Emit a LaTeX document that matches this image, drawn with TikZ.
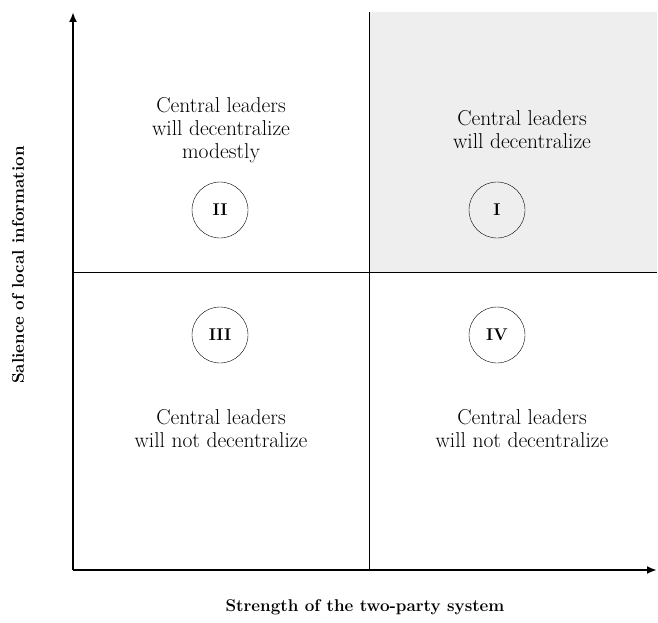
\documentclass[tikz,border=0pt]{standalone}
\usepackage{fontspec}
\usepackage{tikz}
\usetikzlibrary{arrows.meta}
\tikzset{>={Latex[width=8pt,length=10pt]}}
\tikzset{
  quadtext/.style={align=center, font=\fontsize{21.5}{23}\selectfont},
  numcircle/.style={draw, circle, minimum size=56pt, inner sep=0pt, font=\fontsize{17}{17}\selectfont\bfseries},
  axislabel/.style={font=\fontsize{17}{17}\selectfont\bfseries}
}
\definecolor{quadgray}{RGB}{238,238,238}

\begin{document}
\begin{tikzpicture}[x=1pt, y=-1pt]

  \newcommand\XL{73};
  \newcommand\XM{369};
  \newcommand\XR{657};
  \newcommand\YT{12};
  \newcommand\YM{272};
  \newcommand\YB{570};

  \useasboundingbox (0,0) rectangle (658,623);

  \fill[quadgray] (\XM, \YT) rectangle (\XR, \YM);

  \coordinate (origin) at (\XL, \YB);
  \coordinate (ytop) at (\XL, \YT);
  \coordinate (xend) at (\XR, \YB);
  \coordinate (midtop) at (\XM, \YT);
  \coordinate (midbot) at (\XM, \YB);
  \coordinate (midleft) at (\XL, \YM);
  \coordinate (midright) at (\XR, \YM);

  \draw[line width=1pt] (midtop) -- (midbot);
  \draw[line width=1pt] (midleft) -- (midright);

  \draw[->, line width=2pt] (origin) -- (ytop);
  \draw[->, line width=2pt] (origin) -- (xend);

  \node[numcircle] (qii) at (220, 210) {II};
  \node[numcircle] (qi) at (497, 210) {I};
  \node[numcircle] (qiii) at (220, 335) {III};
  \node[numcircle] (qiv) at (497, 335) {IV};

  \node[quadtext] (tii) at (221, 130) {Central leaders\\will decentralize\\modestly};
  \node[quadtext] (ti) at (522, 130) {Central leaders\\will decentralize};
  \node[quadtext] (tiii) at (221, 429) {Central leaders\\will not decentralize};
  \node[quadtext] (tiv) at (522, 429) {Central leaders\\will not decentralize};

  \node[axislabel] (xlabel) at (365, 607) {Strength of the two-party system};
  \node[axislabel, rotate=90] (ylabel) at (18, 265) {Salience of local information};

\end{tikzpicture}
\end{document}
